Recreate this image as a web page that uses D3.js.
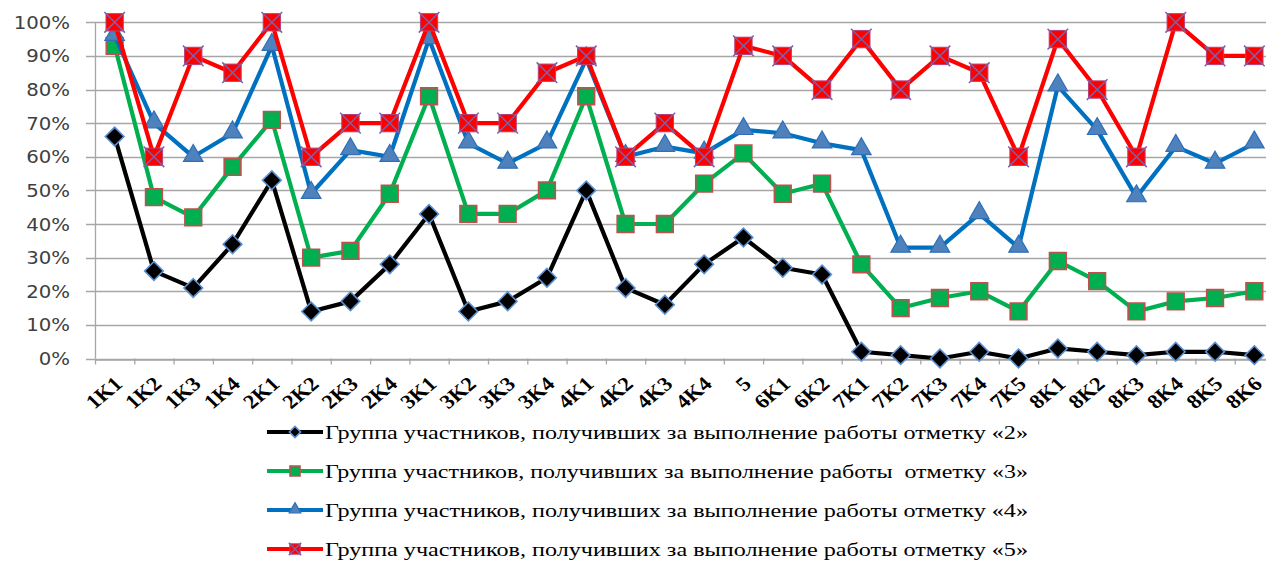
<!DOCTYPE html>
<html>
<head>
<meta charset="utf-8">
<script src="https://cdn.jsdelivr.net/npm/d3@7"></script>
<style>
  body { margin: 0; background: #fff; }
  .ylab { font-family: "DejaVu Sans", Verdana, sans-serif; font-size: 17px; fill: #404040; }
  .xlab { font-family: "Liberation Serif", "Times New Roman", serif; font-size: 20px; font-weight: bold; fill: #000; }
  .leg { font-family: "Liberation Serif", "Times New Roman", serif; font-size: 18px; fill: #000; white-space: pre; }
</style>
</head>
<body>
<div id="chart"></div>
<script>
// categories on the x axis
const categories = ["1K1","1K2","1K3","1K4","2K1","2K2","2K3","2K4","3K1","3K2","3K3","3K4",
  "4K1","4K2","4K3","4K4","5","6K1","6K2","7K1","7K2","7K3","7K4","7K5",
  "8K1","8K2","8K3","8K4","8K5","8K6"];

// percent values, one array per series
const grade2 = [66,26,21,34,53,14,17,28,43,14,17,24,50,21,16,28,36,27,25,2,1,0,2,0,3,2,1,2,2,1];
const grade3 = [93,48,42,57,71,30,32,49,78,43,43,50,78,40,40,52,61,49,52,28,15,18,20,14,29,23,14,17,18,20];
const grade4 = [96,70,60,67,93,49,62,60,95,64,58,64,89,60,63,61,68,67,64,62,33,33,43,33,81,68,48,63,58,64];
const grade5 = [100,60,90,85,100,60,70,70,100,70,70,85,90,60,70,60,93,90,80,95,80,90,85,60,95,80,60,100,90,90];

const yTicks = [0,10,20,30,40,50,60,70,80,90,100];

const seriesNames = [
  "Группа участников, получивших за выполнение работы отметку «2»",
  "Группа участников, получивших за выполнение работы  отметку «3»",
  "Группа участников, получивших за выполнение работы отметку «4»",
  "Группа участников, получивших за выполнение работы отметку «5»"
];

const w = 1266, h = 561;
const padLeft = 95, padTop = 22.3, axisY = 358.5;
const band = 39.3;

const series = [
  { name: seriesNames[0], values: grade2, color: "#000000", marker: "diamond" },
  { name: seriesNames[1], values: grade3, color: "#00B050", marker: "square" },
  { name: seriesNames[2], values: grade4, color: "#0070C0", marker: "triangle" },
  { name: seriesNames[3], values: grade5, color: "#FF0000", marker: "xsquare" }
];

const svg = d3.select("#chart").append("svg")
  .attr("width", w)
  .attr("height", h);

const x = d3.scaleBand()
  .domain(categories)
  .range([padLeft, padLeft + band * categories.length]);
const cx = (c) => x(c) + x.bandwidth() / 2;

const y = d3.scaleLinear()
  .domain([0, 100])
  .range([axisY, padTop]);

// horizontal gridlines
svg.append("g")
  .selectAll("line")
  .data(yTicks)
  .enter()
  .append("line")
  .attr("x1", padLeft - 9)
  .attr("x2", w)
  .attr("y1", (d) => Math.round(y(d)) + 0.5)
  .attr("y2", (d) => Math.round(y(d)) + 0.5)
  .attr("stroke", "#a6a6a6")
  .attr("stroke-width", 1.3);

// y axis labels
svg.append("g")
  .selectAll("text")
  .data(yTicks)
  .enter()
  .append("text")
  .attr("class", "ylab")
  .attr("text-anchor", "end")
  .attr("transform", (d) => "translate(70," + (y(d) + 6.5) + ") scale(1.16,1)")
  .text((d) => d + "%");

// y axis line
svg.append("line")
  .attr("x1", padLeft + 0.5).attr("x2", padLeft + 0.5)
  .attr("y1", y(100)).attr("y2", axisY)
  .attr("stroke", "#a6a6a6").attr("stroke-width", 1.3);

// x axis: tick marks at band boundaries, rotated labels
const xAxis = d3.axisBottom(x).tickSize(0).tickFormat("");
const gx = svg.append("g")
  .attr("transform", "translate(0," + (Math.round(axisY) + 0.5) + ")")
  .call(xAxis);
gx.select(".domain").attr("stroke", "#a6a6a6").attr("stroke-width", 1.3);
gx.selectAll(".tick").remove();

svg.append("g")
  .selectAll("line")
  .data(categories)
  .enter()
  .append("line")
  .attr("x1", (d) => x(d) + 0.5)
  .attr("x2", (d) => x(d) + 0.5)
  .attr("y1", axisY)
  .attr("y2", axisY + 6)
  .attr("stroke", "#a6a6a6")
  .attr("stroke-width", 1.3);

svg.append("g")
  .selectAll("text")
  .data(categories)
  .enter()
  .append("text")
  .attr("class", "xlab")
  .attr("text-anchor", "end")
  .attr("transform", (d) => "translate(" + (cx(d) + 9) + "," + (axisY + 27) + ") scale(1.12,1) rotate(-43)")
  .text((d) => d);

// marker drawing
function drawMarker(g, type, scale) {
  const k = scale || 1;
  if (type === "diamond") {
    g.append("path")
      .attr("d", d3.symbol().type(d3.symbolSquare).size(175 * k * k)())
      .attr("transform", "rotate(45)")
      .attr("fill", "#000")
      .attr("stroke", "#5b8fd0")
      .attr("stroke-width", 1.6);
  } else if (type === "square") {
    g.append("path")
      .attr("d", d3.symbol().type(d3.symbolSquare).size(280 * k * k)())
      .attr("fill", "#00B050")
      .attr("stroke", "#C0504D")
      .attr("stroke-width", 1.6);
  } else if (type === "triangle") {
    g.append("path")
      .attr("d", d3.symbol().type(d3.symbolTriangle).size(165 * k * k)())
      .attr("transform", "translate(0," + (-1 * k) + ")")
      .attr("fill", "#4F81BD")
      .attr("stroke", "#2F6FB8")
      .attr("stroke-width", 1.2);
  } else {
    g.append("path")
      .attr("d", d3.symbol().type(d3.symbolSquare).size(300 * k * k)())
      .attr("fill", "#FF0000")
      .attr("stroke", "#b8407a")
      .attr("stroke-width", 1);
    g.append("path")
      .attr("d", d3.symbol().type(d3.symbolX || d3.symbolCross).size(280 * k * k)())
      .attr("transform", d3.symbolX ? null : "rotate(45)")
      .attr("fill", "none")
      .attr("stroke", "#7E5FA8")
      .attr("stroke-width", 1.5);
  }
}

const line = d3.line()
  .x((d, i) => cx(categories[i]))
  .y((d) => y(d));

series.forEach((s) => {
  const g = svg.append("g");
  g.append("path")
    .datum(s.values)
    .attr("d", line)
    .attr("fill", "none")
    .attr("stroke", s.color)
    .attr("stroke-width", 4.2)
    .attr("stroke-linejoin", "round");
  g.selectAll(".m")
    .data(s.values)
    .enter()
    .append("g")
    .attr("class", "m")
    .attr("transform", (d, i) => "translate(" + cx(categories[i]) + "," + y(d) + ")")
    .each(function () { drawMarker(d3.select(this), s.marker, 1); });
});

// legend
const legend = svg.selectAll(".legend")
  .data(series)
  .enter()
  .append("g")
  .attr("class", "legend")
  .attr("transform", (d, i) => "translate(0," + (432 + i * 39) + ")");

legend.append("line")
  .attr("x1", 267).attr("x2", 323)
  .attr("y1", 0).attr("y2", 0)
  .attr("stroke", (d) => d.color)
  .attr("stroke-width", 4.2);

legend.append("g")
  .attr("transform", "translate(295,0)")
  .each(function (d) { drawMarker(d3.select(this), d.marker, 0.6); });

legend.append("text")
  .attr("class", "leg")
  .attr("x", 325)
  .attr("y", 7)
  .attr("textLength", 703)
  .attr("lengthAdjust", "spacingAndGlyphs")
  .text((d) => d.name);
</script>
</body>
</html>
